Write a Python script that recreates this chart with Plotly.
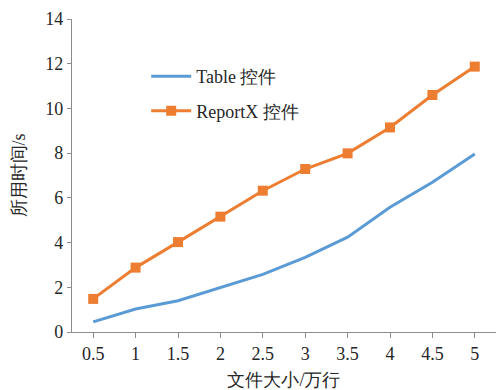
import plotly.graph_objects as go

# File size (10k rows) and elapsed time in seconds
sizes = [0.5, 1, 1.5, 2, 2.5, 3, 3.5, 4, 4.5, 5]
size_labels = ["0.5", "1", "1.5", "2", "2.5", "3", "3.5", "4", "4.5", "5"]
table_time = [0.45, 1.03, 1.40, 2.00, 2.58, 3.34, 4.24, 5.58, 6.70, 7.96]
reportx_time = [1.48, 2.88, 4.02, 5.16, 6.32, 7.29, 7.99, 9.15, 10.60, 11.87]
y_ticks = [0, 2, 4, 6, 8, 10, 12, 14]

FONT = "'Times New Roman', 'Liberation Serif', 'DejaVu Serif', serif"
BLUE = "#5B9BD5"
ORANGE = "#ED7D31"
AXIS = "#8C8C8C"
TXT = "#262626"

fig = go.Figure()
fig.add_trace(go.Scatter(
    x=sizes, y=table_time, mode="lines", name="Table 控件",
    line=dict(color=BLUE, width=3), legendgroup="a",
))
fig.add_trace(go.Scatter(
    x=sizes, y=reportx_time, mode="lines+markers", name="ReportX 控件",
    line=dict(color=ORANGE, width=3),
    marker=dict(symbol="square", size=10, color=ORANGE),
    legendgroup="b",
))

fig.update_layout(
    width=496, height=390,
    margin=dict(l=72, r=0, t=19, b=58),
    paper_bgcolor="white", plot_bgcolor="white",
    font=dict(family=FONT, size=18, color=TXT),
    showlegend=True,
    legend=dict(
        x=0.175, y=0.875, xanchor="left", yanchor="top",
        bgcolor="rgba(0,0,0,0)", font=dict(family=FONT, size=18, color=TXT),
        tracegroupgap=8, itemwidth=40,
    ),
    xaxis=dict(
        range=[0.25, 5.25], tickvals=sizes, ticktext=size_labels,
        showgrid=False, zeroline=False, showline=True, linecolor=AXIS, linewidth=1.3,
        ticks="outside", ticklen=5, tickcolor=AXIS,
        tickfont=dict(family=FONT, size=18, color=TXT),
        title=dict(text="文件大小/万行", font=dict(family=FONT, size=18, color=TXT), standoff=12),
    ),
    yaxis=dict(
        range=[0, 14], tickvals=y_ticks,
        showgrid=False, zeroline=False, showline=True, linecolor=AXIS, linewidth=1.3,
        ticks="outside", ticklen=4, tickcolor=AXIS,
        tickfont=dict(family=FONT, size=18, color=TXT),
        title=dict(text="所用时间/s", font=dict(family=FONT, size=18, color=TXT), standoff=14),
    ),
)

fig.write_html("out.html")
